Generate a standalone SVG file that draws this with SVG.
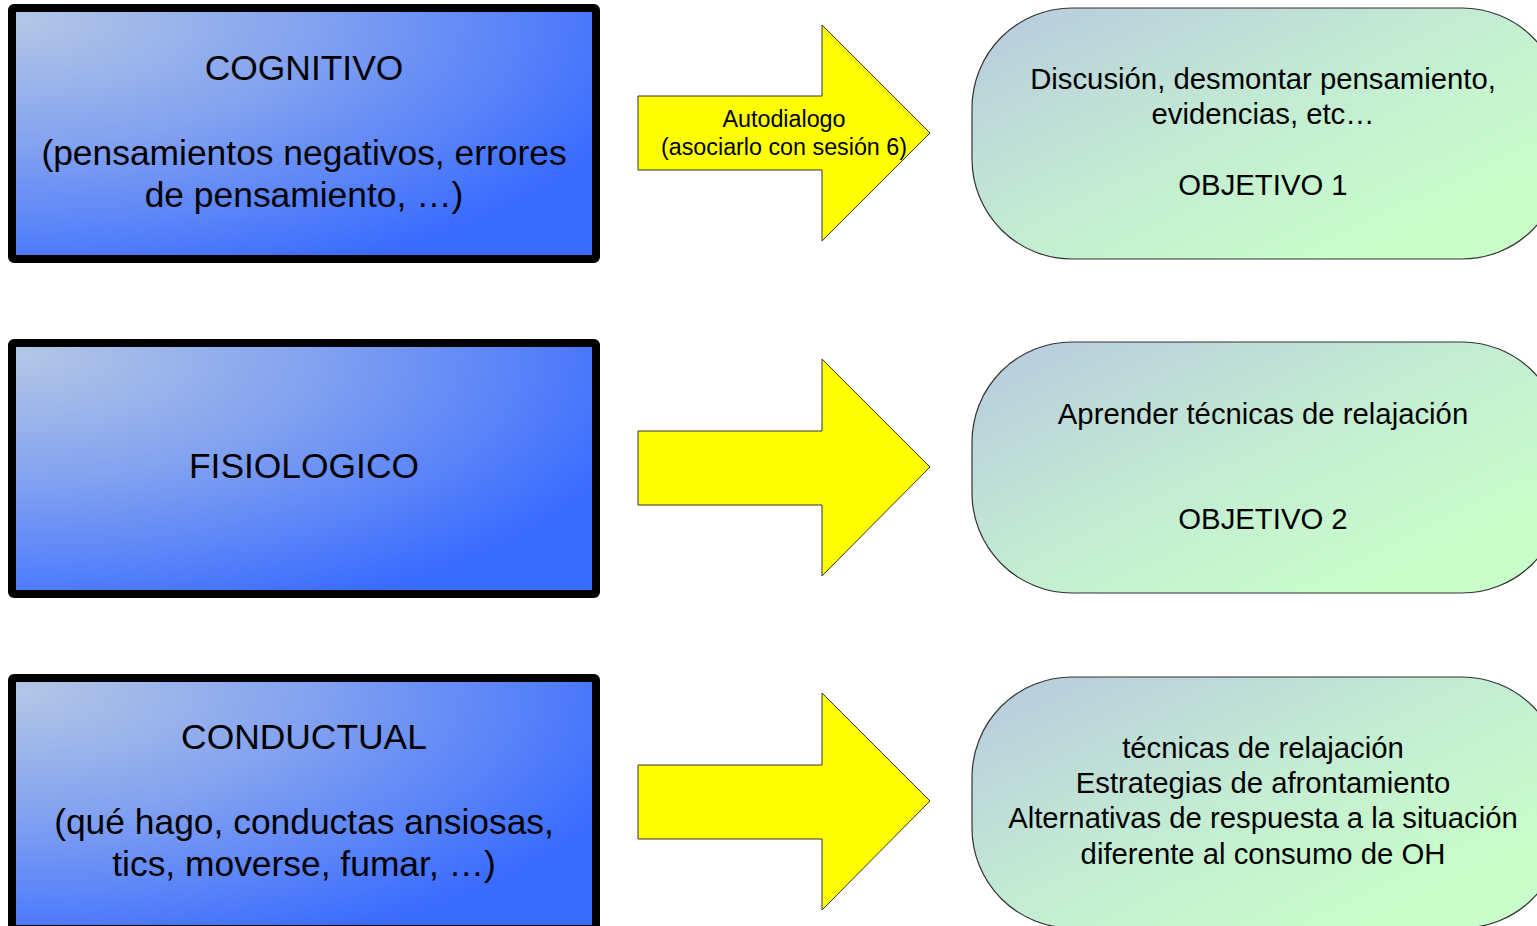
<svg xmlns="http://www.w3.org/2000/svg" width="1537" height="926" viewBox="0 0 1537 926">
  <style>
    .box { fill: url(#blueFill); stroke: #000; stroke-width: 8; }
    .goal { fill: url(#greenFill); stroke: #333; stroke-width: 1.2; }
    .arrow { fill: #ffff00; stroke: #333; stroke-width: 1; }
    text { font-family: "Liberation Sans", Arial, sans-serif; fill: #000; text-anchor: middle; }
    .big { font-size: 35.4px; }
    .mid { font-size: 29.3px; }
    .small { font-size: 23.3px; }
  </style>
  <defs>
    <radialGradient id="blueFill" cx="0.02" cy="0.05" r="1.1" fx="0.02" fy="0.05">
      <stop offset="0" stop-color="#b2c6e6"/>
      <stop offset="0.45" stop-color="#83a2f0"/>
      <stop offset="1" stop-color="#3a6cff"/>
    </radialGradient>
    <linearGradient id="greenFill" x1="0" y1="0" x2="0.85" y2="0.75">
      <stop offset="0" stop-color="#b7c9df"/>
      <stop offset="0.55" stop-color="#c3ebd3"/>
      <stop offset="1" stop-color="#c9fdca"/>
    </linearGradient>
  </defs>

  <!-- source categories -->
  <g id="cognitivo">
    <rect class="box" x="12" y="8" width="584" height="251" rx="2"/>
    <text class="big" x="304" y="80">COGNITIVO</text>
    <text class="big" x="304" y="165">(pensamientos negativos, errores</text>
    <text class="big" x="304" y="207">de pensamiento, …)</text>
  </g>
  <g id="fisiologico">
    <rect class="box" x="12" y="343" width="584" height="251" rx="2"/>
    <text class="big" x="304" y="478">FISIOLOGICO</text>
  </g>
  <g id="conductual">
    <rect class="box" x="12" y="678" width="584" height="251" rx="2"/>
    <text class="big" x="304" y="749">CONDUCTUAL</text>
    <text class="big" x="304" y="834">(qué hago, conductas ansiosas,</text>
    <text class="big" x="304" y="876">tics, moverse, fumar, …)</text>
  </g>

  <!-- block arrows -->
  <g id="connectors">
    <g id="arrow1">
      <polygon class="arrow" points="638,96 822,96 822,25 930,133 822,241 822,170 638,170"/>
      <text class="small" x="784" y="127">Autodialogo</text>
      <text class="small" x="784" y="155">(asociarlo con sesión 6)</text>
    </g>
    <polygon id="arrow2" class="arrow" points="638,431 822,431 822,359 930,467 822,576 822,505 638,505"/>
    <polygon id="arrow3" class="arrow" points="638,765 822,765 822,693 930,801 822,910 822,839 638,839"/>
  </g>

  <!-- objectives -->
  <g id="objetivo1">
    <rect class="goal" x="972" y="8" width="590" height="251" rx="100" ry="100"/>
    <text class="mid" x="1263" y="89">Discusión, desmontar pensamiento,</text>
    <text class="mid" x="1263" y="124">evidencias, etc…</text>
    <text class="mid" x="1263" y="195">OBJETIVO 1</text>
  </g>
  <g id="objetivo2">
    <rect class="goal" x="972" y="342" width="590" height="251" rx="100" ry="100"/>
    <text class="mid" x="1263" y="424">Aprender técnicas de relajación</text>
    <text class="mid" x="1263" y="529">OBJETIVO 2</text>
  </g>
  <g id="objetivo3">
    <rect class="goal" x="972" y="677" width="590" height="251" rx="100" ry="100"/>
    <text class="mid" x="1263" y="758">técnicas de relajación</text>
    <text class="mid" x="1263" y="793">Estrategias de afrontamiento</text>
    <text class="mid" x="1263" y="828">Alternativas de respuesta a la situación</text>
    <text class="mid" x="1263" y="864">diferente al consumo de OH</text>
  </g>
</svg>
